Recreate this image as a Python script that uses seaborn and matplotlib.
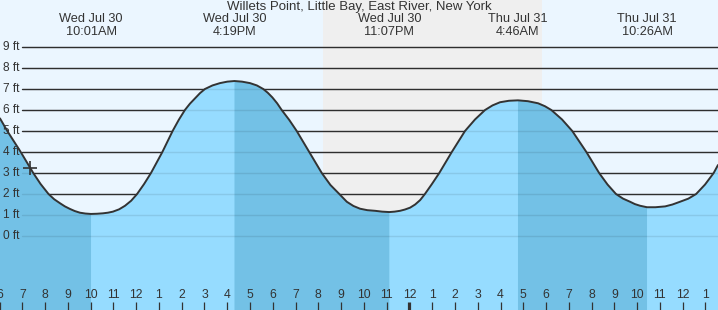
import matplotlib
matplotlib.use("Agg")
import matplotlib.pyplot as plt
import numpy as np
import pandas as pd
import seaborn as sns

# ---------------- data ----------------
title = "Willets Point, Little Bay, East River, New York"

# hours since Wed Jul 30 00:00, tide height in ft
hours = [6.02, 6.34, 6.93, 7.48, 7.80, 8.15, 8.40, 8.655, 8.87, 9.09, 9.30,
         9.53, 9.77, 10.017, 10.28, 10.54, 10.76, 10.98, 11.25, 11.51, 11.78,
         12.04, 12.35, 12.65, 13.15, 13.60, 13.87, 14.14, 14.36, 14.58, 14.80,
         15.02, 15.35, 15.68, 16.00, 16.317, 16.65, 17.00, 17.30, 17.58, 17.78,
         17.98, 18.19, 18.39, 18.72, 19.05, 19.60, 20.15, 20.53, 20.92, 21.25,
         21.54, 21.83, 22.15, 22.49, 22.80, 23.117, 23.35, 23.59, 23.80, 24.03,
         24.25, 24.47, 24.68, 24.99, 25.31, 25.86, 26.44, 26.88, 27.32, 27.65,
         27.98, 28.37, 28.767, 29.20, 29.65, 29.95, 30.23, 30.70, 31.15, 31.77,
         32.33, 32.70, 33.07, 33.38, 33.69, 33.90, 34.13, 34.433, 34.80, 35.23,
         35.55, 35.88, 36.25, 36.59, 36.98, 37.36, 37.55]
heights = [5.60, 5.00, 4.00, 3.00, 2.48, 2.00, 1.75, 1.56, 1.41, 1.29, 1.19,
           1.11, 1.07, 1.05, 1.06, 1.08, 1.11, 1.16, 1.27, 1.44, 1.68,
           2.00, 2.48, 3.00, 4.00, 5.00, 5.53, 6.00, 6.30, 6.55, 6.80,
           7.00, 7.17, 7.28, 7.35, 7.38, 7.35, 7.28, 7.17, 7.00, 6.82,
           6.60, 6.32, 6.00, 5.53, 5.00, 4.00, 3.00, 2.43, 2.00, 1.63,
           1.43, 1.30, 1.23, 1.20, 1.16, 1.14, 1.16, 1.20, 1.26, 1.35,
           1.50, 1.71, 2.00, 2.48, 3.00, 4.00, 5.00, 5.55, 6.00, 6.22,
           6.37, 6.44, 6.46, 6.42, 6.32, 6.18, 6.00, 5.55, 5.00, 4.00,
           3.00, 2.45, 2.00, 1.78, 1.63, 1.52, 1.44, 1.37, 1.37, 1.41,
           1.50, 1.63, 1.78, 2.00, 2.45, 3.00, 3.38]

extreme_hours = [10.017, 16.317, 23.117, 28.767, 34.433]
extreme_dates = ["Wed Jul 30", "Wed Jul 30", "Wed Jul 30", "Thu Jul 31", "Thu Jul 31"]
extreme_times = ["10:01AM", "4:19PM", "11:07PM", "4:46AM", "10:26AM"]

falling_spans = [(6.02, 10.017), (16.317, 23.117), (28.767, 34.433)]
night_span = (20.2, 29.82)

y_levels = list(range(0, 10))
y_labels = [f"{v} ft" for v in y_levels]

hour_ticks = list(range(6, 38))
hour_labels = [str((h - 1) % 12 + 1) for h in hour_ticks]

now_hour, now_height = 7.34, 3.24

# ---------------- style ----------------
sns.set_style("white")
plt.rcParams["font.family"] = ["Liberation Sans", "DejaVu Sans"]

BG = "#EBF6FF"
NIGHT = "#EFEFEF"
LIGHT = "#96DCFF"
DARK = "#73C1E6"
INK = "#333333"

W, H = 718, 310
fig = plt.figure(figsize=(W / 100, H / 100), dpi=100)
ax = fig.add_axes([0, 0, 1, 1])
ax.set_facecolor(BG)
for s in ax.spines.values():
    s.set_visible(False)

x0, x1 = 6.02, 37.55
ybot, ytop = (236 - 310) / 21, 236 / 21
ax.set_xlim(x0, x1)
ax.set_ylim(ybot, ytop)
ax.set_xticks([])
ax.set_yticks([])

df = pd.DataFrame({"hour": hours, "height": heights})
t = np.array(hours)
h = np.array(heights)

# night shading
ax.axvspan(*night_span, color=NIGHT, zorder=0, lw=0)

# grid lines (dark, under water)
gx = 22 / W
for v in y_levels:
    ax.axhline(v, xmin=gx, xmax=1, color=INK, lw=1.0, zorder=1)

# water fill
ax.fill_between(t, ybot, h, color=LIGHT, lw=0, zorder=2)
mask = np.zeros_like(t, dtype=bool)
for a, b in falling_spans:
    mask |= (t >= a - 1e-6) & (t <= b + 1e-6)
ax.fill_between(t, ybot, h, where=mask, color=DARK, lw=0, zorder=2.5)

# faint grid lines through water
for v in y_levels:
    ax.axhline(v, xmin=gx, xmax=1, color="black", alpha=0.09, lw=1.0, zorder=3)

# tide curve
sns.lineplot(data=df, x="hour", y="height", color=INK, lw=1.4, ax=ax,
             zorder=4, sort=False)
ax.lines[-1].set_solid_joinstyle("round")
ax.set_xlabel("")
ax.set_ylabel("")

# current time marker
ax.plot([now_hour], [now_height], marker="+", ms=10, mew=1.2, color=INK, zorder=5)

# y labels
ytr = ax.get_yaxis_transform()
for v, lab in zip(y_levels, y_labels):
    ax.text(3 / W, v, lab, transform=ytr, ha="left", va="center",
            fontsize=8.6, color=INK, zorder=6)

# x ticks and labels
xtr = ax.get_xaxis_transform()
for hr, lab in zip(hour_ticks, hour_labels):
    lw = 2.3 if hr % 24 == 0 else 0.9
    ax.plot([hr, hr], [0, 8 / H], transform=xtr, color=INK, lw=lw,
            solid_capstyle="butt", zorder=6)
    ax.text(hr, (H - 295) / H, lab, transform=xtr, ha="center", va="center",
            fontsize=8.8, color=INK, zorder=6)

# title and extreme labels
ax.text(0.5, 1 - 7 / H, title, transform=ax.transAxes, ha="center",
        va="center", fontsize=9.5, color=INK, zorder=6)
for hr, d, tm in zip(extreme_hours, extreme_dates, extreme_times):
    ax.text(hr, 1 - 19.5 / H, d, transform=xtr, ha="center", va="center",
            fontsize=9.2, color=INK, zorder=6)
    ax.text(hr, 1 - 32 / H, tm, transform=xtr, ha="center", va="center",
            fontsize=9.2, color=INK, zorder=6)

fig.savefig("out.png", dpi=100)
